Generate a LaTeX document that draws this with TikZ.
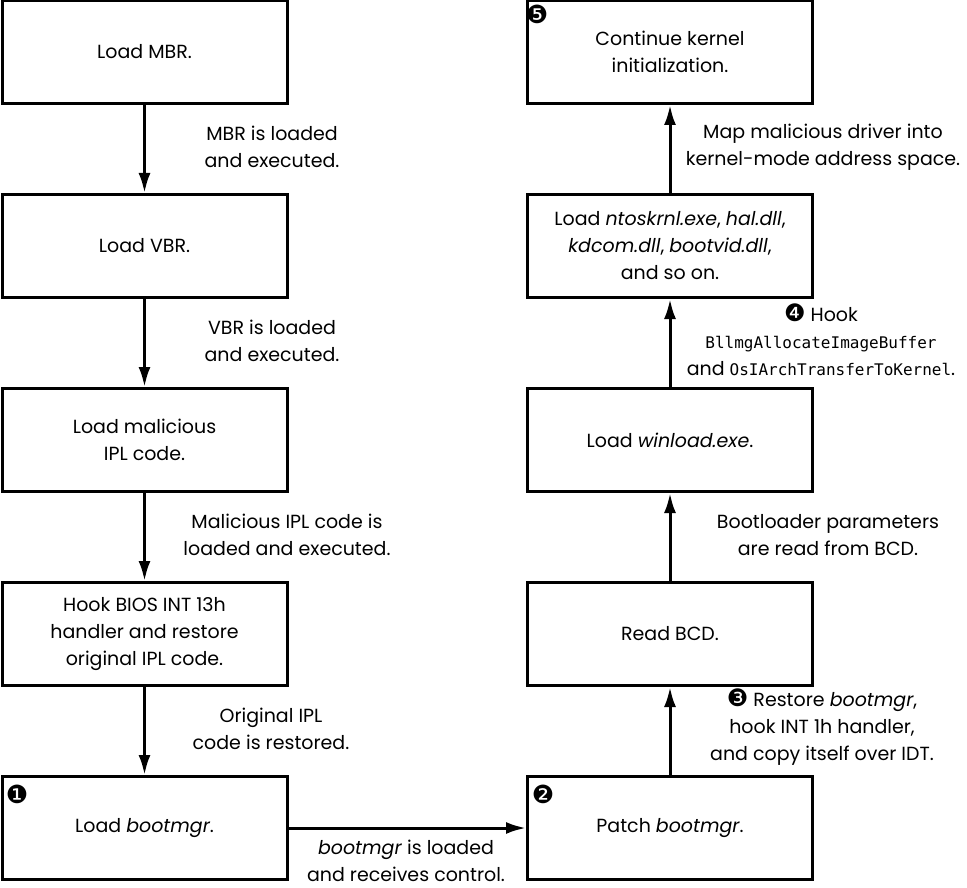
\documentclass[tikz,border=0pt]{standalone}
\usepackage{fontspec}
\setmainfont{Poppins}
\setmonofont{DejaVu Sans Mono}
\newfontfamily\circfont{DejaVu Sans}
\usetikzlibrary{arrows.meta,positioning}

\newcommand{\stepmark}[1]{{\circfont\fontsize{24}{27}\selectfont #1}}

\begin{document}
\begin{tikzpicture}[x=1pt, y=-1pt,
  stepbox/.style={rectangle, draw=black, line width=3pt, fill=white,
                  minimum width=285pt, minimum height=103pt, inner sep=0pt,
                  align=center, font=\fontsize{19}{27}\selectfont},
  note/.style={align=center, inner sep=0pt, font=\fontsize{19}{27}\selectfont},
  badge/.style={inner sep=0pt, font=\circfont\fontsize{25}{25}\selectfont},
  arr/.style={-{Latex[length=20pt,width=12pt]}, line width=3pt}
]
\useasboundingbox (0,0) rectangle (967,888);

% Left column
\node[stepbox] (mbr)  at (144.5, 52)  {Load MBR.};
\node[stepbox] (vbr)  at (144.5, 246) {Load VBR.};
\node[stepbox] (ipl)  at (144.5, 440) {Load malicious\\IPL code.};
\node[stepbox] (bios) at (144.5, 634) {Hook BIOS INT 13h\\handler and restore\\original IPL code.};
\node[stepbox] (boot) at (144.5, 828) {Load \textit{bootmgr}.};

% Right column
\node[stepbox] (patch)  at (670, 828) {Patch \textit{bootmgr}.};
\node[stepbox] (bcd)    at (670, 634) {Read BCD.};
\node[stepbox] (winld)  at (670, 440) {Load \textit{winload.exe}.};
\node[stepbox] (ntos)   at (670, 246) {Load \textit{ntoskrnl.exe}, \textit{hal.dll},\\\textit{kdcom.dll}, \textit{bootvid.dll},\\and so on.};
\node[stepbox] (kinit)  at (670, 52)  {Continue kernel\\initialization.};

% Step badges
\node[badge] (s1) at (17, 794)  {❶};
\node[badge] (s2) at (543, 794) {❷};
\node[badge] (s5) at (537, 14)  {❺};

% Arrows
\draw[arr] (mbr)  -- (vbr);
\draw[arr] (vbr)  -- (ipl);
\draw[arr] (ipl)  -- (bios);
\draw[arr] (bios) -- (boot);
\draw[arr] (boot) -- (patch);
\draw[arr] (patch) -- (bcd);
\draw[arr] (bcd)   -- (winld);
\draw[arr] (winld) -- (ntos);
\draw[arr] (ntos)  -- (kinit);

% Arrow labels
\node[note] (n1) at (272, 147) {MBR is loaded\\and executed.};
\node[note] (n2) at (272, 341) {VBR is loaded\\and executed.};
\node[note] (n3) at (287, 535) {Malicious IPL code is\\loaded and executed.};
\node[note] (n4) at (271, 729) {Original IPL\\code is restored.};
\node[note] (n5) at (406, 861) {\textit{bootmgr} is loaded\\and receives control.};
\node[note] (n6) at (822, 727) {\stepmark{❸} Restore \textit{bootmgr},\\hook INT 1h handler,\\and copy itself over IDT.};
\node[note] (n7) at (828, 535) {Bootloader parameters\\are read from BCD.};
\node[note] (n8) at (821, 340) {\stepmark{❹} Hook\\{\ttfamily\fontsize{16}{27}\selectfont BllmgAllocateImageBuffer}\\and {\ttfamily\fontsize{16}{27}\selectfont OsIArchTransferToKernel}.};
\node[note] (n9) at (823, 147) {Map malicious driver into\\kernel-mode address space.};
\end{tikzpicture}
\end{document}
